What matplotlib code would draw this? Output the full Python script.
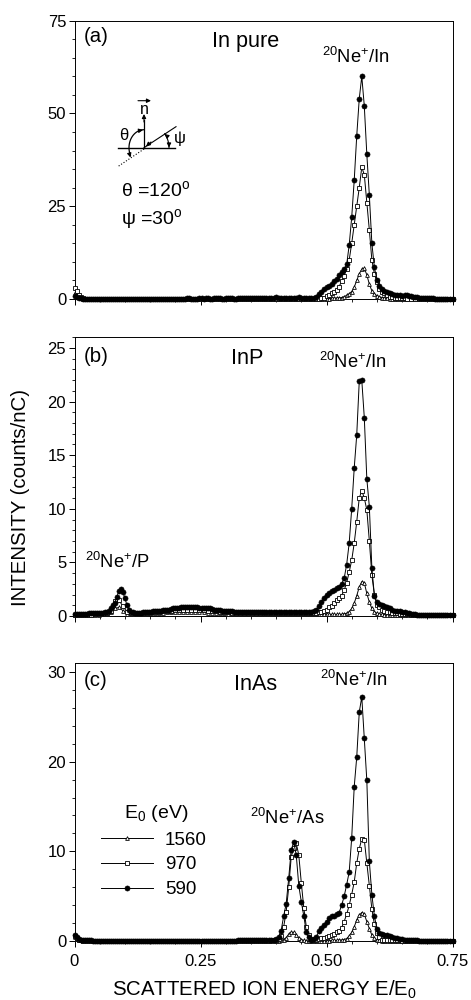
import numpy as np
import matplotlib
matplotlib.use("Agg")
import matplotlib.pyplot as plt
from matplotlib.ticker import MultipleLocator, FixedLocator

plt.rcParams['font.family'] = ['Liberation Sans', 'DejaVu Sans']
plt.rcParams['mathtext.default'] = 'regular'
plt.rcParams['font.size'] = 12

# energy channels E/E0 (same for all spectra)
E = [0, .004, .008, .012, .016,
     .024, .032, .04, .048, .056, .064, .072, .08, .088, .096,
     .104, .112, .12, .128, .136, .144, .152, .16, .168, .176,
     .184, .192, .2, .208, .216, .224, .232, .24, .248, .256,
     .264, .272, .28, .288, .296, .304, .312, .32, .328, .336,
     .344, .352, .36, .368, .376,
     .38, .385, .39, .395, .4, .405, .41, .415, .42, .425,
     .43, .435, .44, .445, .45, .455, .46, .465, .47, .475,
     .48, .485, .49, .495, .5, .505, .51, .515, .52, .525,
     .53, .535, .54, .545, .55, .555, .56, .565, .57, .575,
     .58, .585, .59, .595, .6, .605, .61, .615, .62, .625,
     .63, .635, .64, .645, .65, .655, .66,
     .668, .676, .684, .692, .7, .708, .716, .724, .732, .74, .75]

# extra channels read only for the 590 eV spectra, they fill the baseline band
E_FILL = [.02, .028, .036, .044, .052, .06, .068, .076, .084, .092,
          .1, .108, .116, .124, .132, .14, .148, .156, .164, .172,
          .18, .188, .196, .204, .212, .22, .228, .236, .244, .252,
          .26, .268, .276, .284, .292, .3, .308, .316, .324, .332,
          .34, .348, .356, .364, .372,
          .664, .672, .68, .688, .696, .704, .712, .72, .728, .736, .745]

# (a) In pure
a_590 = [.8, .5, .3, .2, .1,
         .1, .1, .1, .1, .1, .1, .1, .1, .1, .1,
         .1, .1, .1, .1, .1, .1, .1, .1, .1, .1,
         .1, .1, .1, .1, .1, .2, .1, .1, .2, .1,
         .2, .1, .2, .2, .1, .2, .2, .1, .2, .2,
         .2, .3, .2, .3, .3,
         .3, .3, .2, .3, .5, .4, .3, .3, .4, .3,
         .3, .4, .4, .5, .4, .3, .3, .3, .3, .3,
         .5, 1.3, 2.0, 2.6, 3.1, 3.6, 4.1, 4.8, 5.5, 6.4,
         7.3, 8.0, 9.3, 14.5, 22, 32, 44, 54, 60, 52,
         39, 28, 15, 8.5, 5.2, 3.6, 2.6, 2.1, 1.8, 1.5,
         1.3, 1.2, 1.1, 1.0, .9, 1.0, 1.0,
         .7, .5, .4, .3, .2, .2, .1, .1, .1, .1, .1]
a_590_fill = [.1, .1, .1, .1, .1, .1, .1, .1, .1, .1,
              .1, .1, .1, .1, .1, .1, .1, .1, .1, .1,
              .1, .1, .1, .1, .1, .1, .2, .1, .1, .2,
              .2, .1, .2, .2, .1, .2, .2, .1, .2, .2,
              .3, .2, .3, .3, .3,
              .9, .6, .45, .35, .25, .2, .15, .1, .1, .1, .1]
a_970 = [3.0, 2.2, 1.2, .5, .2,
         .1, .1, .1, .1, .1, .1, .1, .1, .1, .1,
         .1, .1, .1, .1, .1, .1, .1, .1, .1, .1,
         .1, .1, .1, .1, .1, .1, .1, .1, .1, .1,
         .1, .1, .1, .1, .1, .1, .1, .1, .1, .1,
         .1, .1, .1, .1, .1,
         .1, .1, .1, .1, .1, .1, .1, .1, .1, .1,
         .1, .1, .1, .1, .1, .1, .1, .1, .1, .1,
         .1, .1, .2, .4, .8, 1.1, 1.5, 2.0, 2.4, 3.3,
         4.8, 6.3, 8.0, 10.5, 15, 20, 25, 30, 35.5, 33.5,
         26, 18.6, 10.5, 6.8, 4.6, 2.6, 2.0, 1.5, 1.0, .6,
         .5, .4, .3, .2, .2, .2, .1,
         .1, .1, .1, .1, .1, .1, .1, .1, .1, .1, .1]
a_1560 = [1.5, 1.0, .5, .2, .1,
          .1, .1, .1, .1, .1, .1, .1, .1, .1, .1,
          .1, .1, .1, .1, .1, .1, .1, .1, .1, .1,
          .1, .1, .1, .1, .1, .1, .1, .1, .1, .1,
          .1, .1, .1, .1, .1, .1, .1, .1, .1, .1,
          .1, .1, .1, .1, .1,
          .1, .1, .1, .1, .1, .1, .1, .1, .1, .1,
          .1, .1, .1, .1, .1, .1, .1, .1, .1, .1,
          .1, .1, .1, .1, .1, .1, .2, .2, .3, .3,
          .4, .6, 1.0, 1.4, 2.0, 3.2, 5.0, 6.8, 8.0, 8.3,
          6.5, 4.0, 2.2, 1.4, .9, .6, .4, .3, .2, .1,
          .1, .1, .1, .1, .1, .1, .1,
          .1, .1, .1, .1, .1, .1, .1, .1, .1, .1, .1]

# (b) InP
b_590 = [.2, .2, .2, .2, .2,
         .2, .25, .3, .3, .3, .4, .7, 1.2, 2.3, 2.2,
         1.0, .4, .3, .3, .35, .4, .4, .45, .5, .55,
         .6, .65, .7, .75, .8, .8, .8, .8, .75, .7,
         .7, .65, .6, .55, .5, .45, .45, .4, .4, .4,
         .35, .35, .35, .35, .35,
         .35, .35, .35, .35, .35, .35, .35, .35, .35, .4,
         .4, .4, .4, .4, .4, .4, .4, .4, .4, .45,
         .6, .9, 1.3, 1.7, 2.0, 2.1, 2.3, 2.4, 2.6, 2.7,
         3.0, 3.5, 4.8, 6.8, 10, 13.8, 16.9, 21.9, 22, 18.5,
         12.8, 10.2, 4.5, 1.9, 1.3, 1.1, 1.0, .9, .8, .7,
         .55, .5, .5, .45, .4, .4, .3,
         .2, .15, .1, .1, .1, .1, .05, .05, .05, .05, .05]
b_590_fill = [.2, .3, .3, .3, .3, .35, .5, 1.0, 1.8, 2.5,
              1.7, .6, .35, .3, .3, .4, .4, .45, .5, .5,
              .6, .6, .7, .7, .8, .8, .8, .8, .8, .7,
              .7, .7, .6, .6, .5, .5, .45, .4, .4, .4,
              .35, .35, .35, .35, .35,
              .25, .15, .1, .1, .1, .1, .1, .05, .05, .05, .05]
b_970 = [.1, .1, .1, .1, .1,
         .1, .1, .15, .15, .2, .3, .5, 1.4, 1.5, .9,
         .4, .3, .25, .25, .3, .3, .35, .4, .4, .45,
         .5, .5, .55, .6, .6, .6, .6, .6, .55, .55,
         .5, .5, .45, .4, .4, .35, .3, .3, .3, .3,
         .25, .25, .25, .25, .25,
         .25, .25, .25, .25, .25, .25, .25, .25, .25, .25,
         .25, .25, .25, .25, .25, .25, .25, .25, .25, .25,
         .3, .35, .4, .5, .6, .8, .9, 1.2, 1.5, 1.7,
         1.9, 2.4, 3.1, 4.1, 5.2, 6.8, 8.8, 11, 11.7, 11,
         9.9, 7, 3.8, 2.0, 1.0, .8, .6, .5, .4, .35,
         .3, .3, .25, .2, .2, .15, .15,
         .1, .1, .1, .1, .1, .05, .05, .05, .05, .05, .05]
b_1560 = [.1, .1, .1, .1, .1,
          .1, .1, .1, .1, .15, .2, .4, .7, .8, .5,
          .2, .15, .15, .2, .2, .2, .25, .25, .3, .3,
          .35, .35, .35, .4, .4, .4, .4, .35, .35, .35,
          .3, .3, .3, .25, .25, .2, .2, .2, .2, .2,
          .15, .15, .15, .15, .15,
          .15, .15, .15, .15, .15, .15, .15, .15, .15, .15,
          .15, .15, .15, .15, .15, .15, .15, .15, .15, .15,
          .15, .15, .15, .15, .15, .15, .15, .15, .15, .15,
          .15, .2, .25, .4, .7, 1.2, 1.9, 2.7, 3.2, 3.1,
          2.1, 1.3, .7, .4, .25, .2, .15, .1, .1, .1,
          .1, .1, .1, .1, .1, .1, .1,
          .05, .05, .05, .05, .05, .05, .05, .05, .05, .05, .05]

# (c) InAs
c_590 = [.7, .5, .3, .2, .1,
         .1, .1, .05, .05, .05, .05, .05, .05, .05, .05,
         .05, .05, .05, .05, .05, .05, .05, .05, .05, .05,
         .05, .05, .05, .05, .05, .05, .05, .05, .05, .05,
         .05, .05, .05, .05, .05, .05, .05, .05, .1, .1,
         .1, .1, .1, .1, .1,
         .1, .1, .15, .2, .3, .5, 1.2, 2.8, 4.2, 7,
         10.2, 11, 9.6, 6.2, 4.4, 2.8, 1.0, .5, .2, .3,
         .5, 1.1, 1.5, 1.8, 2.2, 2.6, 2.8, 2.8, 3.0, 3.2,
         4.0, 5.0, 6.3, 7.7, 11.5, 17.2, 20.5, 25.5, 27.2, 22.6,
         17.9, 8.9, 5.2, 2.8, 1.4, .9, .8, .7, .7, .6,
         .5, .4, .35, .3, .25, .2, .15,
         .1, .1, .05, .05, .05, .05, .05, .05, .05, .05, .05]
c_590_fill = [.1, .1, .05, .05, .05, .05, .05, .05, .05, .05,
              .05, .05, .05, .05, .05, .05, .05, .05, .05, .05,
              .05, .05, .05, .05, .05, .05, .05, .05, .05, .05,
              .05, .05, .05, .05, .05, .05, .05, .05, .1, .1,
              .1, .1, .1, .1, .1,
              .1, .1, .1, .05, .05, .05, .05, .05, .05, .05, .05]
c_970 = [.6, .4, .2, .1, .05,
         .05, .05, .05, .05, .05, .05, .05, .05, .05, .05,
         .05, .05, .05, .05, .05, .05, .05, .05, .05, .05,
         .05, .05, .05, .05, .05, .05, .05, .05, .05, .05,
         .05, .05, .05, .05, .05, .05, .05, .05, .05, .05,
         .05, .05, .05, .05, .05,
         .05, .05, .1, .1, .2, .3, .6, 1.6, 3.3, 6,
         9.4, 10.4, 10.9, 9.6, 6.5, 3.7, 1.6, .7, .3, .2,
         .2, .3, .35, .4, .45, .55, .7, .85, 1.0, 1.2,
         1.5, 2.2, 3.0, 4.0, 5.2, 6.6, 8.7, 10.3, 11.4, 11.3,
         8.7, 6.2, 3.6, 1.9, .9, .5, .2, .15, .1, .1,
         .1, .1, .1, .1, .05, .05, .05,
         .05, .05, .05, .05, .05, .05, .05, .05, .05, .05, .05]
c_1560 = [.5, .3, .2, .1, .05,
          .05, .05, .05, .05, .05, .05, .05, .05, .05, .05,
          .05, .05, .05, .05, .05, .05, .05, .05, .05, .05,
          .05, .05, .05, .05, .05, .05, .05, .05, .05, .05,
          .05, .05, .05, .05, .05, .05, .05, .05, .05, .05,
          .05, .05, .05, .05, .05,
          .05, .05, .05, .05, .05, .05, .1, .2, .4, .8,
          1.0, 1.0, .7, .4, .2, .1, .05, .05, .05, .05,
          .05, .05, .05, .05, .05, .05, .1, .1, .1, .15,
          .15, .2, .3, .6, 1.0, 1.6, 2.4, 2.9, 3.2, 3.0,
          2.2, 1.4, .7, .35, .15, .1, .05, .05, .05, .05,
          .05, .05, .05, .05, .05, .05, .05,
          .05, .05, .05, .05, .05, .05, .05, .05, .05, .05, .05]

W, H = 471, 1000
XLEFT, XRIGHT = 74.5, 452.5

fig = plt.figure(figsize=(W / 100, H / 100), dpi=100)


def make_axes(top, bottom, ymax, ymajor, yminor):
    ax = fig.add_axes([XLEFT / W, 1 - bottom / H, (XRIGHT - XLEFT) / W, (bottom - top) / H])
    ax.set_xlim(0, 0.75)
    ax.set_ylim(0, ymax)
    ax.xaxis.set_major_locator(FixedLocator([0, 0.25, 0.5, 0.75]))
    ax.xaxis.set_minor_locator(MultipleLocator(0.05))
    ax.yaxis.set_major_locator(MultipleLocator(ymajor))
    ax.yaxis.set_minor_locator(MultipleLocator(yminor))
    ax.tick_params(which='major', length=4, width=0.7, direction='out', labelsize=12)
    ax.tick_params(which='minor', length=2.2, width=0.6, direction='out')
    ax.tick_params(axis='x', pad=5)
    ax.tick_params(axis='y', pad=2)
    for s in ax.spines.values():
        s.set_linewidth(0.7)
    return ax


def draw_spectra(ax, y590, y590_fill, y970, y1560):
    # 590 eV goes on top, its black dots make the solid band along the baseline
    l1560, = ax.plot(E, y1560, '-', color='black', lw=0.7, marker='^', ms=2.7, mfc='white',
                     mec='black', mew=0.6, clip_on=False, zorder=3)
    l970, = ax.plot(E, y970, '-', color='black', lw=0.7, marker='s', ms=2.7, mfc='white',
                    mec='black', mew=0.6, clip_on=False, zorder=4)
    x = np.array(E + E_FILL)
    y = np.array(y590 + y590_fill)
    order = np.argsort(x)
    l590, = ax.plot(x[order], y[order], '-', color='black', lw=0.7, marker='o', ms=3.7, mfc='black',
                    mec='black', mew=0.4, clip_on=False, zorder=5)
    return l590, l970, l1560


ax_a = make_axes(20.7, 299, 75, 25, 5)
ax_b = make_axes(337.3, 616, 26, 5, 1)
ax_c = make_axes(662.7, 941.3, 31, 10, 2)

draw_spectra(ax_a, a_590, a_590_fill, a_970, a_1560)
draw_spectra(ax_b, b_590, b_590_fill, b_970, b_1560)
l590, l970, l1560 = draw_spectra(ax_c, c_590, c_590_fill, c_970, c_1560)

ax_a.set_xticklabels([])
ax_b.set_xticklabels([])
ax_c.set_xticklabels(['0', '0.25', '0.50', '0.75'])

# overlay in pixel coordinates for the labels and the small geometry sketch
ov = fig.add_axes([0, 0, 1, 1], zorder=5)
ov.set_xlim(0, W)
ov.set_ylim(H, 0)
ov.axis('off')
ov.patch.set_alpha(0)


def label(x, y, s, size=12, **kw):
    ov.text(x, y, s, fontsize=size, ha=kw.pop('ha', 'left'), va=kw.pop('va', 'center'), **kw)


NE_IN = '$^{20}$Ne$^{+}$/In'
label(84, 37, '(a)', 14.7)
label(212, 42, 'In pure', 15.6)
label(322, 57, NE_IN, 13.2)
label(84, 357, '(b)', 14.7)
label(231, 359, 'InP', 15.6)
label(319, 362, NE_IN, 13.2)
label(85, 562, '$^{20}$Ne$^{+}$/P', 13.2)
label(84, 680, '(c)', 14.7)
label(234, 685, 'InAs', 15.6)
label(320, 680, NE_IN, 13.2)
label(250, 818, '$^{20}$Ne$^{+}$/As', 13.2)
label(124, 814, 'E$_{0}$ (eV)', 14)
label(121, 190, '\u03b8 =120$^{o}$', 14)
label(121, 219, '\u03c8 =30$^{o}$', 14)
label(21, 498, 'INTENSITY (counts/nC)', 14.7, ha='center', rotation=90)
label(264, 990, 'SCATTERED ION ENERGY E/E$_{0}$', 14.7, ha='center')

# sketch of the scattering geometry
ov.plot([117.5, 175], [147.7, 147.7], color='black', lw=1.0)
ov.plot([144, 176], [147.7, 126.7], color='black', lw=0.8)
ov.plot([144, 118], [149, 166.5], color='black', lw=0.8, ls=':')
ov.plot([144, 144], [147.7, 120], color='black', lw=0.9)


def arrow(x0, y0, x1, y1):
    ov.annotate('', xy=(x1, y1), xytext=(x0, y0),
                arrowprops=dict(arrowstyle='-|>', color='black', lw=0.8, mutation_scale=6,
                                shrinkA=0, shrinkB=0))


arrow(144, 122, 144, 114)
arrow(138, 100.7, 151, 100.7)
arrow(151, 142, 146, 146.5)
t = np.radians(np.linspace(90, 205, 30))
ov.plot(144 + 15 * np.cos(t), 147.7 - 18 * np.sin(t), color='black', lw=0.9)
arrow(140, 130.5, 143, 130)
arrow(129.5, 154, 130.5, 157.5)
t = np.radians(np.linspace(0, 34, 12))
ov.plot(144 + 25 * np.cos(t), 147.7 - 25 * np.sin(t), color='black', lw=0.8)
arrow(169, 144, 169, 147.5)
arrow(167, 136, 164.5, 134)
label(144, 109, 'n', size=11.5, ha='center')
label(124, 136, '\u03b8', size=12, ha='center')
label(180, 139, '\u03c8', size=12, ha='center')

leg = ax_c.legend([l1560, l970, l590], ['1560', '970', '590'], loc='upper left',
                  bbox_to_anchor=(101, 831.5), bbox_transform=ov.transData, frameon=False,
                  numpoints=1, handlelength=2.77, handletextpad=0.64, labelspacing=0.41,
                  borderpad=0, borderaxespad=0, fontsize=13.5)

fig.savefig('out.png', dpi=100)
